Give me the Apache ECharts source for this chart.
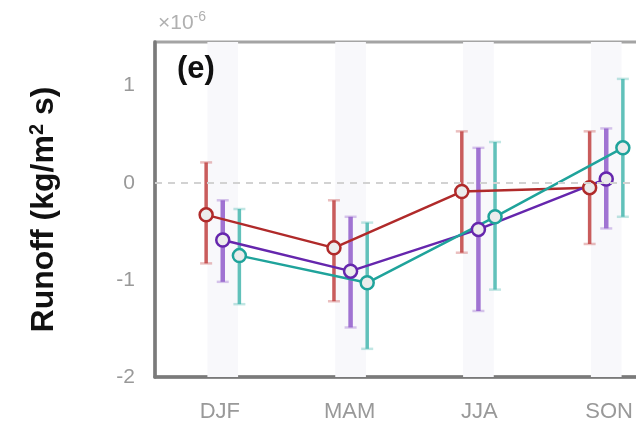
<!DOCTYPE html>
<html><head><meta charset="utf-8">
<script src="https://cdn.jsdelivr.net/npm/echarts@6/dist/echarts.min.js"></script>
<style>html,body{margin:0;padding:0;background:#fff;overflow:hidden}#c{width:680px;height:426px}</style>
</head><body><div id="c"></div>
<script>
const categories = ['DJF', 'MAM', 'JJA', 'SON'];
const yTicks = [-2, -1, 0, 1];
// series values (x 1e-6) with lower / upper error bounds
const redMean  = [-0.33, -0.67, -0.09, -0.05];
const redLow   = [-0.83, -1.22, -0.72, -0.63];
const redHigh  = [ 0.21, -0.18,  0.53,  0.53];
const purMean  = [-0.59, -0.91, -0.48,  0.04];
const purLow   = [-1.02, -1.49, -1.32, -0.47];
const purHigh  = [-0.18, -0.35,  0.36,  0.56];
const tealMean = [-0.75, -1.03, -0.35,  0.36];
const tealLow  = [-1.25, -1.71, -1.10, -0.35];
const tealHigh = [-0.27, -0.41,  0.42,  1.07];

const groups = [
  {mean:redMean,  low:redLow,  high:redHigh,  line:'#b02a2a', bar:'rgba(192,64,64,0.85)',  bw:3.5, shift:-0.13},
  {mean:purMean,  low:purLow,  high:purHigh,  line:'#6526ad', bar:'rgba(150,100,205,0.9)', bw:4.5, shift:0},
  {mean:tealMean, low:tealLow, high:tealHigh, line:'#1fa39b', bar:'rgba(80,186,178,0.9)',  bw:3.5, shift:0.13}
];

const chart = echarts.init(document.getElementById('c'));
const series = [];
series.push({
  type:'line', data:[], silent:true, z:0,
  markArea:{silent:true, itemStyle:{color:'#f8f8fb'},
    data: categories.map((c,i)=>[{xAxis:i+1-0.12},{xAxis:i+1+0.12}])},
  markLine:{silent:true, symbol:'none', label:{show:false},
    lineStyle:{color:'#d2d2d2', type:[7,6], width:2},
    data:[{yAxis:0}]}
});
groups.forEach(g=>{
  series.push({
    type:'custom', z:2,
    data: categories.map((c,i)=>[i+1+g.shift, g.low[i], g.high[i]]),
    renderItem:(params, api)=>{
      const x = api.value(0);
      const p1 = api.coord([x, api.value(1)]);
      const p2 = api.coord([x, api.value(2)]);
      const cw = 6;
      return {type:'group', children:[
        {type:'line', shape:{x1:p1[0],y1:p1[1],x2:p2[0],y2:p2[1]}, style:{stroke:g.bar, lineWidth:g.bw}},
        {type:'line', shape:{x1:p1[0]-cw,y1:p1[1],x2:p1[0]+cw,y2:p1[1]}, style:{stroke:g.bar, lineWidth:2.5, opacity:0.4}},
        {type:'line', shape:{x1:p2[0]-cw,y1:p2[1],x2:p2[0]+cw,y2:p2[1]}, style:{stroke:g.bar, lineWidth:2.5, opacity:0.4}}
      ]};
    }
  });
  series.push({
    type:'line', z:3,
    data: categories.map((c,i)=>[i+1+g.shift, g.mean[i]]),
    lineStyle:{color:g.line, width:2.5},
    symbol:'circle', symbolSize:13,
    itemStyle:{color:'#ececec', borderColor:g.line, borderWidth:2.5}
  });
});

chart.setOption({
  animation:false,
  grid:{left:155, right:6, top:42, bottom:49, show:true, borderColor:'#a4a4a4', borderWidth:3},
  xAxis:[
    {type:'value', min:0.47, max:4.53,
      axisLine:{show:true, onZero:false, lineStyle:{color:'#7a7a7a', width:3.5}},
      axisTick:{show:false}, splitLine:{show:false}, axisLabel:{show:false}},
    {type:'category', data:categories, position:'bottom', boundaryGap:true,
      axisLine:{show:false}, axisTick:{show:false}, splitLine:{show:false},
      axisLabel:{margin:24, color:'#999', fontSize:22, fontFamily:'Liberation Sans, Arial'}}
  ],
  yAxis:{type:'value', min:-2, max:1.45, interval:1,
    name:'{n|Runoff (kg/m}{s|2}{n| s)}', nameLocation:'middle', nameGap:94,
    nameTextStyle:{rich:{
      n:{color:'#111', fontSize:32, fontWeight:'bold', fontFamily:'Liberation Sans, Arial'},
      s:{color:'#111', fontSize:20, fontWeight:'bold', verticalAlign:'top', padding:[0,0,14,0], fontFamily:'Liberation Sans, Arial'}}},
    axisLine:{show:true, lineStyle:{color:'#7a7a7a', width:3.5}},
    axisTick:{show:false}, splitLine:{show:false},
    axisLabel:{margin:20, color:'#999', fontSize:21, fontFamily:'Liberation Sans, Arial',
      formatter:v=> yTicks.indexOf(v)>=0 ? String(v) : ''}},
  graphic:[
    {type:'text', z:100, left:158, top:10, style:{text:'{a|×10}{b|-6}', rich:{
      a:{fontSize:21, fill:'#b0b0b0', fontFamily:'Liberation Sans, Arial'},
      b:{fontSize:14, fill:'#b0b0b0', verticalAlign:'top', padding:[0,0,12,0], fontFamily:'Liberation Sans, Arial'}}}},
    {type:'text', z:100, left:177, top:54, style:{text:'(e)', fontSize:31, fontWeight:'bold', fill:'#111', fontFamily:'Liberation Sans, Arial'}}
  ],
  series:series
});
</script></body></html>
